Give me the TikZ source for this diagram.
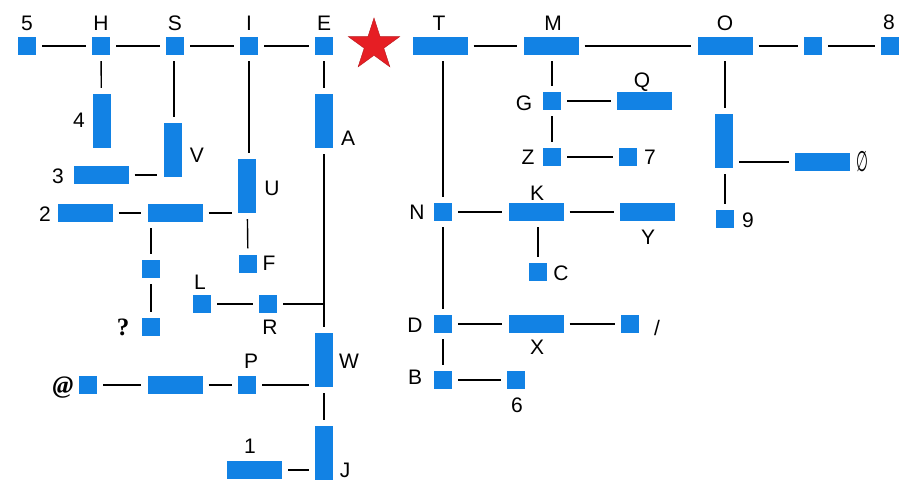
\documentclass[tikz,border=0pt]{standalone}
\usepackage{fontspec}
\usepackage{graphicx}
\setmainfont{Liberation Sans}
\newfontfamily\serifb{Liberation Serif}
\newfontfamily\djv{DejaVu Sans}
\usetikzlibrary{shapes.geometric}
\definecolor{boxblue}{RGB}{18,130,228}
\definecolor{starred}{RGB}{230,30,36}
\tikzset{
  sq/.style={fill=boxblue, minimum width=18pt, minimum height=18pt, inner sep=0pt, draw=none},
  hb/.style={fill=boxblue, minimum width=55pt, minimum height=18pt, inner sep=0pt, draw=none},
  vb/.style={fill=boxblue, minimum width=18pt, minimum height=54pt, inner sep=0pt, draw=none},
  lbl/.style={inner sep=0pt, font=\fontsize{21}{21}\selectfont, text height=15pt, text depth=0pt},
  conn/.style={draw=black, line width=1.4pt, shorten <=6pt, shorten >=6pt},
  conn1/.style={draw=black, line width=1.4pt, shorten <=6pt},
}
\begin{document}
\begin{tikzpicture}[x=1pt,y=-1pt]
\useasboundingbox[fill=white] (0,0) rectangle (920,500);
% top row
\node[sq] (n5) at (27,46) {};
\node[sq] (H) at (101,46) {};
\node[sq] (S) at (175,46) {};
\node[sq] (I) at (249,46) {};
\node[sq] (E) at (324,46) {};
\node[star, star points=5, star point ratio=2.618, minimum size=54pt, inner sep=0pt, fill=starred, draw=starred!80!black, line width=0.4pt] (star) at (374,45) {};
\node[hb] (T) at (440,46) {};
\node[hb] (M) at (551,46) {};
\node[hb] (O) at (725,46) {};
\node[sq] (s8a) at (813,46) {};
\node[sq] (n8) at (890,46) {};
% left part
\node[vb] (b4) at (101.5,121) {};
\node[vb] (V) at (172.5,150) {};
\node[hb] (b3) at (101,175) {};
\node[hb] (b2) at (85,213) {};
\node[hb] (m2) at (175,213) {};
\node[vb] (U) at (247,186) {};
\node[vb] (A) at (324,121) {};
\node[sq] (sQ) at (151,269) {};
\node[sq] (q) at (151,327) {};
\node[sq] (F) at (248,263.5) {};
\node[sq] (L) at (202,304) {};
\node[sq] (R) at (268,304) {};
\node[vb] (W) at (324,360) {};
\node[sq] (P) at (247,385) {};
\node[sq] (at) at (88,385) {};
\node[hb] (mP) at (175,385) {};
\node[vb] (J) at (324,453) {};
\node[hb] (b1) at (254.5,470) {};
\coordinate (jR) at (324,304);
% right part
\node[sq] (N) at (443,212) {};
\node[hb] (K) at (536,212) {};
\node[hb] (Y) at (647.5,212) {};
\node[sq] (G) at (552,101) {};
\node[hb] (Q) at (644.5,101) {};
\node[sq] (Z) at (552,157) {};
\node[sq] (s7) at (628,157) {};
\node[vb] (Ov) at (724,141) {};
\node[hb] (e) at (822.5,162) {};
\node[sq] (s9) at (725,219) {};
\node[sq] (C) at (538,272) {};
\node[sq] (D) at (443,324) {};
\node[hb] (X) at (536,324) {};
\node[sq] (sl) at (630,324) {};
\node[sq] (B) at (443,380) {};
\node[sq] (s6) at (516,380) {};
% connectors
\draw[conn] (n5) -- (H);
\draw[conn] (H) -- (S);
\draw[conn] (S) -- (I);
\draw[conn] (I) -- (E);
\draw[conn] (T) -- (M);
\draw[conn] (M) -- (O);
\draw[conn] (O) -- (s8a);
\draw[conn] (s8a) -- (n8);
\draw[conn] (H) -- (b4);
\draw[conn] (S.south -| 174,0) -- (V.north -| 174,0);
\draw[conn] (b3.east) -- (b3.east -| V.west);
\draw[conn] (b2) -- (m2);
\draw[conn] (m2.east) -- (m2.east -| U.west);
\draw[conn] (I.south) -- (I.south |- U.north);
\draw[conn] (U) -- (F);
\draw[conn] (sQ.north |- m2.south) -- (sQ.north);
\draw[conn] (sQ) -- (q);
\draw[conn] (E) -- (A);
\draw[conn] (A) -- (W);
\draw[conn] (L) -- (R);
\draw[conn1] (R) -- (jR);
\draw[conn] (at) -- (mP);
\draw[conn] (mP) -- (P);
\draw[conn] (P.east) -- (P.east -| W.west);
\draw[conn] (W) -- (J);
\draw[conn] (b1.east) -- (b1.east -| J.west);
\draw[conn] (N.north) -- (N.north |- T.south);
\draw[conn] (N) -- (K);
\draw[conn] (K) -- (Y);
\draw[conn] (C.north |- K.south) -- (C.north);
\draw[conn] (N) -- (D);
\draw[conn] (D) -- (X);
\draw[conn] (X) -- (sl);
\draw[conn] (D) -- (B);
\draw[conn] (B) -- (s6);
\draw[conn] (M.south -| G.north) -- (G.north);
\draw[conn] (G) -- (Q);
\draw[conn] (G) -- (Z);
\draw[conn] (Z) -- (s7);
\draw[conn] (O.south -| 725,0) -- (Ov.north -| 725,0);
\draw[conn] (Ov.east |- e.west) -- (e.west);
\draw[conn] (Ov.south -| 725,0) -- (s9.north);
% labels
\node[lbl] (l5) at (27,23) {5};
\node[lbl] (lH) at (101,23) {H};
\node[lbl] (lS) at (175,23) {S};
\node[lbl] (lI) at (249,23) {I};
\node[lbl] (lE) at (324,23) {E};
\node[lbl] (lT) at (439,23) {T};
\node[lbl] (lM) at (553,23) {M};
\node[lbl] (lO) at (725,23) {O};
\node[lbl] (l8) at (889,22) {8};
\node[lbl] (l4) at (79,120) {4};
\node[lbl] (lV) at (197,155) {V};
\node[lbl] (l3) at (58,176) {3};
\node[lbl] (l2) at (45,214) {2};
\node[lbl] (lU) at (272,188) {U};
\node[lbl] (lA) at (348,138) {A};
\node[lbl] (lF) at (269,263) {F};
\node[lbl] (lL) at (200,282) {L};
\node[lbl] (lR) at (270,327) {R};
\node[lbl, font=\serifb\bfseries\fontsize{25}{25}\selectfont] (lq) at (123,328) {?};
\node[lbl] (lP) at (251,361) {P};
\node[lbl] (lW) at (349,361) {W};
\node[lbl, font=\serifb\bfseries\itshape\fontsize{25}{25}\selectfont] (lat) at (63,386) {@};
\node[lbl] (lJ) at (345,470) {J};
\node[lbl] (l1) at (250,446) {1};
\node[lbl] (lN) at (417,212) {N};
\node[lbl] (lK) at (537,193) {K};
\node[lbl] (lY) at (648,237) {Y};
\node[lbl] (lG) at (524,103) {G};
\node[lbl] (lQ) at (642,80) {Q};
\node[lbl] (lZ) at (528,157) {Z};
\node[lbl] (l7) at (650,157) {7};
\node[lbl, font=\djv\fontsize{21}{21}\selectfont, text height=18pt] (le) at (862,162) {\scalebox{0.65}[1.35]{∅}};
\node[lbl] (l9) at (748,220) {9};
\node[lbl] (lC) at (561,273) {C};
\node[lbl] (lD) at (415,325) {D};
\node[lbl] (lX) at (537,347) {X};
\node[lbl] (lsl) at (657,328) {/};
\node[lbl] (lB) at (415,377) {B};
\node[lbl] (l6) at (517,405) {6};
\end{tikzpicture}
\end{document}
